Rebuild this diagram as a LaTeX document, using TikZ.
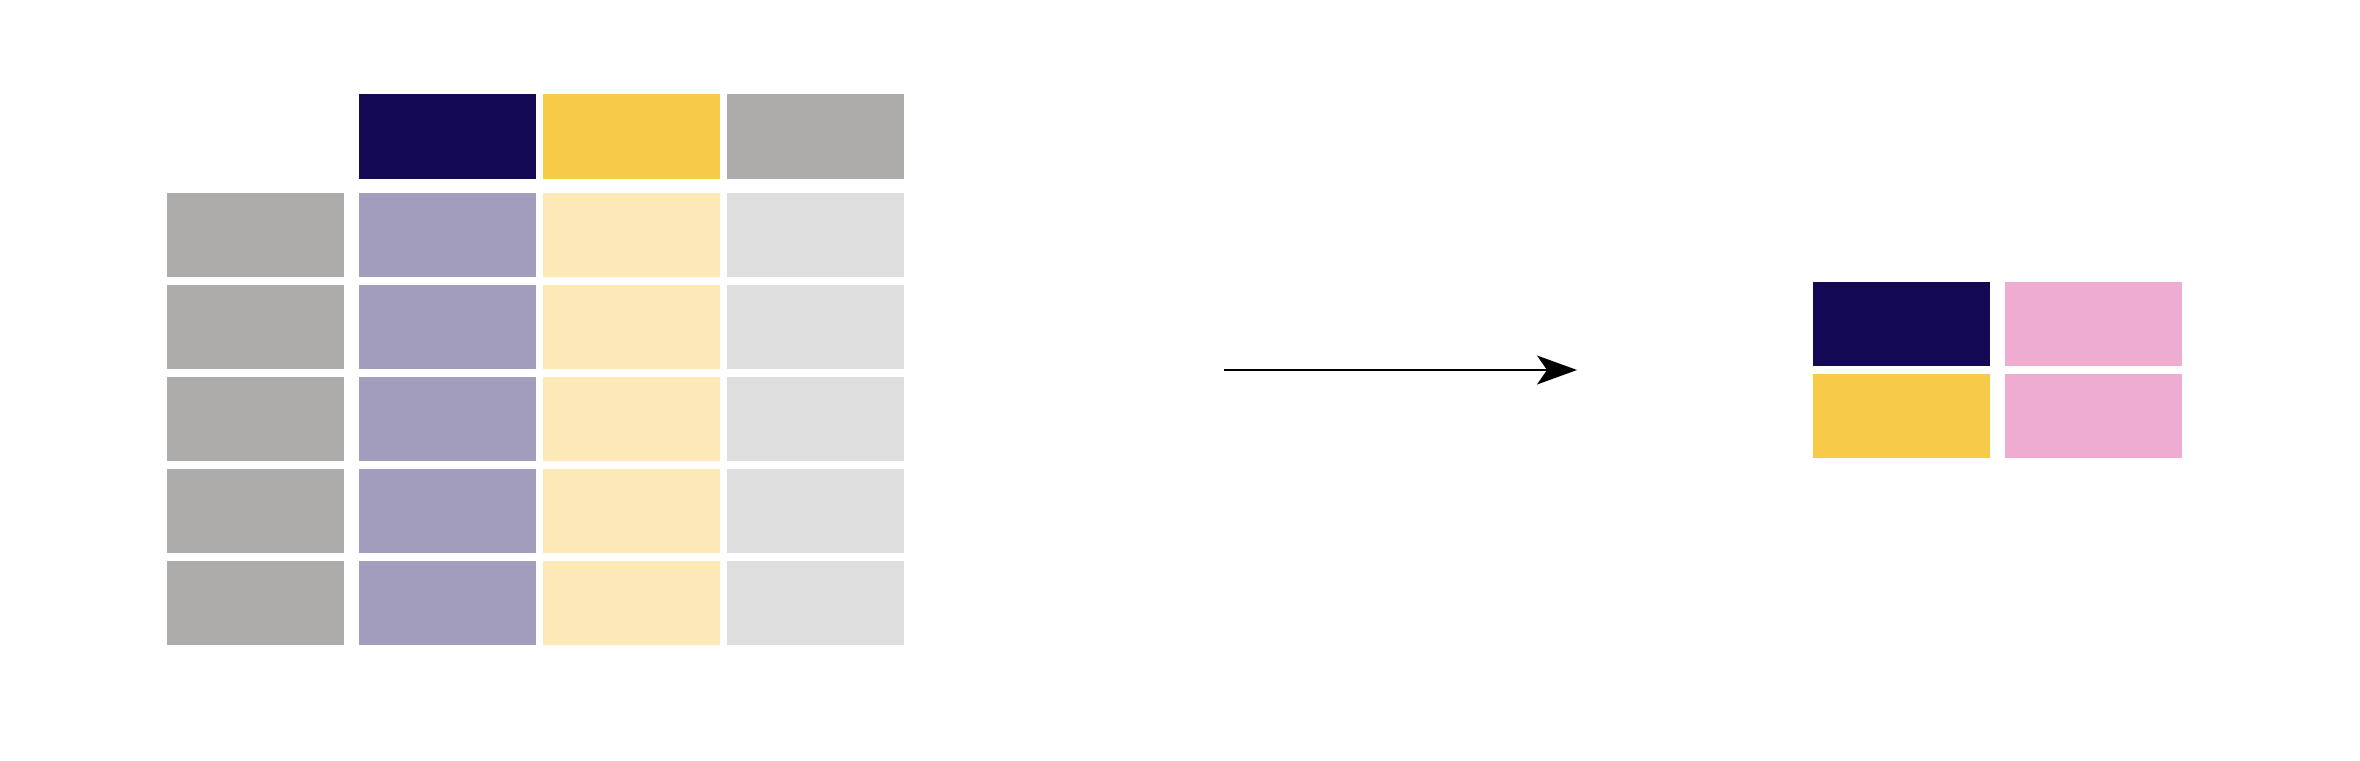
\documentclass[tikz,border=0pt]{standalone}
\usetikzlibrary{arrows.meta,matrix,positioning}

\definecolor{navy}{HTML}{130954}
\definecolor{mustard}{HTML}{F7CB47}
\definecolor{stone}{HTML}{ADACAA}
\definecolor{lavender}{HTML}{A29DBD}
\definecolor{cream}{HTML}{FDE9B8}
\definecolor{mist}{HTML}{DEDEDE}
\definecolor{rose}{HTML}{EEADD0}

\begin{document}
\begin{tikzpicture}[x=1pt,y=-1pt,
	cell/.style={rectangle,fill=#1,minimum width=177pt,minimum height=84pt,inner sep=0pt,outer sep=0pt},
	head/.style={cell=#1,minimum height=85pt},
	every matrix/.style={ampersand replacement=\&,inner sep=0pt,outer sep=0pt}]
\useasboundingbox (0,0) rectangle (2360,760);

% long table
\matrix (tbl) [column sep=7pt,row sep=8pt,anchor=north west] at (167,94) {
	\&[8pt] \node[head=navy] (hA) {}; \& \node[head=mustard] (hB) {}; \& \node[head=stone] (hC) {}; \\[6pt]
	\node[cell=stone] (k1) {}; \& \node[cell=lavender] (a1) {}; \& \node[cell=cream] (b1) {}; \& \node[cell=mist] (c1) {}; \\
	\node[cell=stone] (k2) {}; \& \node[cell=lavender] (a2) {}; \& \node[cell=cream] (b2) {}; \& \node[cell=mist] (c2) {}; \\
	\node[cell=stone] (k3) {}; \& \node[cell=lavender] (a3) {}; \& \node[cell=cream] (b3) {}; \& \node[cell=mist] (c3) {}; \\
	\node[cell=stone] (k4) {}; \& \node[cell=lavender] (a4) {}; \& \node[cell=cream] (b4) {}; \& \node[cell=mist] (c4) {}; \\
	\node[cell=stone] (k5) {}; \& \node[cell=lavender] (a5) {}; \& \node[cell=cream] (b5) {}; \& \node[cell=mist] (c5) {}; \\
};

% summary
\matrix (res) [column sep=15pt,row sep=8pt,anchor=north west] at (1813,282) {
	\node[cell=navy] (rA) {}; \& \node[cell=rose] (rX) {}; \\
	\node[cell=mustard] (rB) {}; \& \node[cell=rose] (rY) {}; \\
};

\coordinate (from) at (1224,370);
\coordinate (to) at (1577,370);
\draw[-{Stealth[length=40pt,width=29pt,inset=10pt]},line width=2pt] (from) -- (to);

\end{tikzpicture}
\end{document}
